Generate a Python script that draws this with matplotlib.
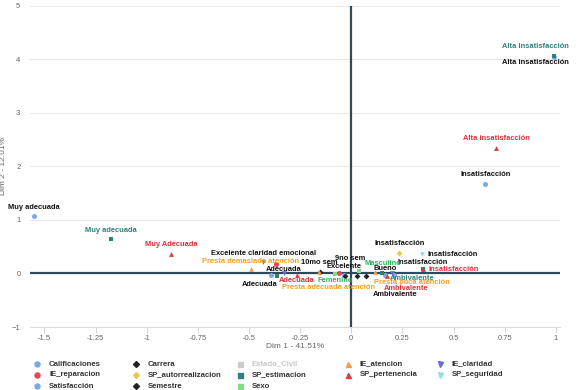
import matplotlib.pyplot as plt
from matplotlib.lines import Line2D

# ── Datos: coordenadas de las categorias en el plano factorial ──────
# Satisfacción
satisf_labels = ["Muy adecuada", "Adecuada", "Ambivalente", "Insatisfacción", "Alta insatisfacción"]
satisf_x = [-1.55, -0.39, 0.21, 0.655, 0.99]
satisf_y = [1.07, -0.03, -0.02, 1.68, 4.05]

# Calificaciones
calif_labels = ["Excelente", "Bueno"]
calif_x = [-0.035, 0.165]
calif_y = [-0.03, -0.03]

# Carrera
carrera_labels = ["Carrera A", "Carrera B"]
carrera_x = [-0.03, 0.07]
carrera_y = [-0.04, -0.04]

# Semestre
semestre_labels = ["10mo sem", "9no sem"]
semestre_x = [-0.155, 0.03]
semestre_y = [0.03, -0.04]

# IE_claridad
claridad_labels = ["Excelente claridad emocional", "Adecuada", "Ambivalente"]
claridad_x = [-0.43, -0.33, 0.2]
claridad_y = [0.21, 0.0, 0.0]

# IE_reparacion
reparacion_labels = ["Adecuada", "Ambivalente"]
reparacion_x = [-0.37, -0.06]
reparacion_y = [0.17, 0.0]

# IE_atencion
atencion_labels = ["Presta demasiada atención", "Presta adecuada atención", "Presta poca atención"]
atencion_x = [-0.49, -0.16, 0.115]
atencion_y = [0.09, 0.02, 0.02]

# SP_autorrealizacion
autorr_labels = ["Insatisfacción"]
autorr_x = [0.235]
autorr_y = [0.39]

# SP_estimacion
estim_labels = ["Muy adecuada", "Adecuada", "Ambivalente", "Insatisfacción", "Alta insatisfacción"]
estim_x = [-1.175, -0.365, 0.15, 0.35, 0.99]
estim_y = [0.64, -0.04, 0.0, 0.08, 4.07]

# SP_pertenencia
perten_labels = ["Muy Adecuada", "Adecuada", "Ambivalente", "Insatisfacción", "Alta insatisfacción"]
perten_x = [-0.88, -0.265, 0.175, 0.35, 0.71]
perten_y = [0.37, -0.02, -0.05, 0.08, 2.35]

# SP_seguridad
segur_labels = ["Insatisfacción"]
segur_x = [0.345]
segur_y = [0.36]

# Sexo
sexo_labels = ["Femenino", "Masculino"]
sexo_x = [-0.08, 0.04]
sexo_y = [-0.01, 0.05]

# nombre, etiquetas, x, y, marcador, color del punto, color de la etiqueta
series = [
    ("Calificaciones", calif_labels, calif_x, calif_y, "o", "#7aa8e6", "#111111"),
    ("IE_reparacion", reparacion_labels, reparacion_x, reparacion_y, "o", "#e8435a", "#e0303a"),
    ("Satisfacción", satisf_labels, satisf_x, satisf_y, "o", "#7aa8e6", "#111111"),
    ("Carrera", carrera_labels, carrera_x, carrera_y, "D", "#222222", "#111111"),
    ("SP_autorrealizacion", autorr_labels, autorr_x, autorr_y, "D", "#e8c84e", "#111111"),
    ("Semestre", semestre_labels, semestre_x, semestre_y, "D", "#222222", "#111111"),
    ("Estado_Civil", [], [], [], "s", "#cccccc", "#cccccc"),
    ("SP_estimacion", estim_labels, estim_x, estim_y, "s", "#2f807b", "#2f807b"),
    ("Sexo", sexo_labels, sexo_x, sexo_y, "s", "#86dc86", "#2db35a"),
    ("IE_atencion", atencion_labels, atencion_x, atencion_y, "^", "#f0a04a", "#f0a020"),
    ("SP_pertenencia", perten_labels, perten_x, perten_y, "^", "#e03a3a", "#e0303a"),
    ("IE_claridad", claridad_labels, claridad_x, claridad_y, "v", "#6a6ad8", "#111111"),
    ("SP_seguridad", segur_labels, segur_x, segur_y, "v", "#90dede", "#111111"),
]

# desplazamiento de las etiquetas (en puntos), por defecto arriba del punto
offsets = {
    ("Satisfacción", "Adecuada"): (-8.5, -6.5),
    ("Satisfacción", "Ambivalente"): (1, -14),
    ("Satisfacción", "Alta insatisfacción"): (-13, -4.5),
    ("SP_estimacion", "Alta insatisfacción"): (-13, 6.5),
    ("Calificaciones", "Bueno"): (0, 4.5),
    ("Semestre", "9no sem"): (-5, 12),
    ("SP_seguridad", "Insatisfacción"): (22, 0),
    ("SP_estimacion", "Ambivalente"): (22, -3.6),
    ("SP_estimacion", "Insatisfacción"): (0, 5),
    ("SP_pertenencia", "Adecuada"): (0, -4.5),
    ("SP_pertenencia", "Ambivalente"): (14, -9),
    ("SP_pertenencia", "Insatisfacción"): (22, 0),
    ("IE_atencion", "Presta adecuada atención"): (7, -11),
    ("IE_atencion", "Presta poca atención"): (27, -7),
    ("IE_atencion", "Presta demasiada atención"): (0, 5),
    ("IE_claridad", "Adecuada"): (0, 3),
    ("Sexo", "Femenino"): (0, -5),
    ("Sexo", "Masculino"): (17, 5),
}
# color distinto para alguna etiqueta
color_etiqueta = {("SP_estimacion", "Insatisfacción"): "#111111"}
# etiquetas que no se muestran (se superponen en el original)
ocultas = {("Carrera", "Carrera A"), ("Carrera", "Carrera B"),
           ("IE_reparacion", "Adecuada"), ("IE_reparacion", "Ambivalente"),
           ("SP_estimacion", "Adecuada"), ("IE_claridad", "Ambivalente")}

fuente = ["Liberation Sans", "DejaVu Sans"]

fig = plt.figure(figsize=(5.79, 3.90), dpi=100)
ax = fig.add_axes([0.052, 0.1615, 0.915, 0.8235])

for nombre, labels, xs, ys, marker, color, lcolor in series:
    if nombre == "Estado_Civil":
        continue
    ms = 13 if marker == "o" else 12
    if marker == "D":
        ms = 9
    ax.scatter(xs, ys, marker=marker, s=ms, color=color, zorder=4, linewidths=0)
    for lab, x, y in zip(labels, xs, ys):
        if (nombre, lab) in ocultas:
            continue
        dx, dy = offsets.get((nombre, lab), (0, 6.5))
        c = color_etiqueta.get((nombre, lab), lcolor)
        ax.annotate(lab, (x, y), xytext=(dx, dy), textcoords="offset points",
                    ha="center", va="center", fontsize=5.4, fontweight="bold",
                    color=c, family=fuente, zorder=5, annotation_clip=False)

ax.axhline(0, color="#2e4a5b", lw=1.6, zorder=3)
ax.axvline(0, color="#2e4a5b", lw=1.6, zorder=3)

ax.set_xlim(-1.57, 1.02)
ax.set_ylim(-1, 5)
ax.set_xticks([-1.5, -1.25, -1, -0.75, -0.5, -0.25, 0, 0.25, 0.5, 0.75, 1])
ax.set_xticklabels(["-1.5", "-1.25", "-1", "-0.75", "-0.5", "-0.25", "0", "0.25", "0.5", "0.75", "1"])
ax.set_yticks([-1, 0, 1, 2, 3, 4, 5])
ax.grid(axis="y", color="#e8e8e8", lw=0.8)
ax.set_axisbelow(True)
for lado in ["top", "right", "left"]:
    ax.spines[lado].set_visible(False)
ax.spines["bottom"].set_color("#dcdcdc")
ax.tick_params(axis="x", colors="#666666", labelsize=5.5, length=4, width=0.6, color="#cccccc", pad=1.5)
ax.tick_params(axis="y", colors="#666666", labelsize=5.5, length=0, pad=7)
for t in ax.get_xticklabels() + ax.get_yticklabels():
    t.set_family(fuente)
ax.set_xlabel("Dim 1 - 41.51%", fontsize=6, color="#666666", family=fuente, labelpad=1)
ax.set_ylabel("Dim 2 - 12.01%", fontsize=6, color="#666666", family=fuente, labelpad=3)

# ── Leyenda manual en 5 columnas ───────────────────────────
col_x = [37, 136, 240, 348, 440]
fila_y = [364, 375, 386]
for i, (nombre, labels, xs, ys, marker, color, lcolor) in enumerate(series):
    col = [0, 0, 0, 1, 1, 1, 2, 2, 2, 3, 3, 4, 4][i]
    fila = [0, 1, 2, 0, 1, 2, 0, 1, 2, 0, 1, 0, 1][i]
    fx = col_x[col] / 579
    fy = 1 - fila_y[fila] / 390
    ms = 3.6 if marker != "D" else 3
    fig.add_artist(Line2D([fx], [fy], marker=marker, color=color, ms=ms, lw=0,
                          transform=fig.transFigure))
    tcolor = "#c8c8c8" if nombre == "Estado_Civil" else "#333333"
    fig.text(fx + 12 / 579, fy, nombre, fontsize=5.6, fontweight="bold", color=tcolor,
             va="center", ha="left", family=fuente)

fig.savefig("out.png", dpi=100)
